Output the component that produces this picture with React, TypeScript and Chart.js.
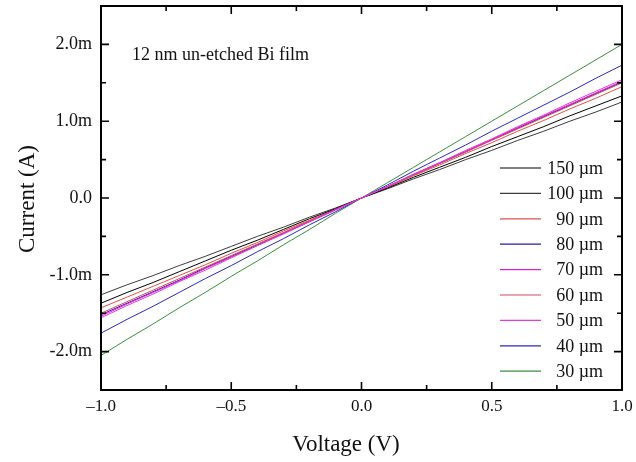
import React, { useEffect, useRef } from "react";
import { Chart, registerables } from "chart.js";

Chart.register(...registerables);

const voltage = [-1.0, -0.9, -0.8, -0.7, -0.6, -0.5, -0.4, -0.3, -0.2, -0.1, 0.0, 0.1, 0.2, 0.3, 0.4, 0.5, 0.6, 0.7, 0.8, 0.9, 1.0];

// currents in mA
const i150 = [-1.37, -1.23, -1.10, -0.96, -0.82, -0.68, -0.55, -0.41, -0.27, -0.14, 0.00, 0.13, 0.27, 0.40, 0.53, 0.67, 0.80, 0.93, 1.07, 1.20, 1.33];
const i100 = [-1.26, -1.13, -1.01, -0.88, -0.76, -0.63, -0.50, -0.38, -0.25, -0.13, 0.00, 0.12, 0.25, 0.37, 0.50, 0.62, 0.75, 0.87, 1.00, 1.12, 1.25];
const i90 = [-1.43, -1.29, -1.15, -1.01, -0.87, -0.72, -0.58, -0.43, -0.29, -0.15, 0.00, 0.14, 0.29, 0.43, 0.58, 0.72, 0.87, 1.01, 1.16, 1.30, 1.45];
const i80 = [-1.52, -1.37, -1.22, -1.07, -0.91, -0.76, -0.61, -0.46, -0.30, -0.15, 0.00, 0.15, 0.30, 0.45, 0.60, 0.76, 0.91, 1.06, 1.21, 1.36, 1.51];
const i70 = [-1.54, -1.38, -1.23, -1.08, -0.92, -0.77, -0.62, -0.46, -0.31, -0.15, 0.00, 0.15, 0.31, 0.46, 0.61, 0.76, 0.92, 1.07, 1.22, 1.37, 1.52];
const i60 = [-1.50, -1.35, -1.20, -1.05, -0.90, -0.75, -0.60, -0.45, -0.30, -0.15, 0.00, 0.15, 0.30, 0.45, 0.60, 0.75, 0.90, 1.05, 1.20, 1.35, 1.50];
const i50 = [-1.56, -1.40, -1.25, -1.09, -0.94, -0.78, -0.62, -0.47, -0.31, -0.16, 0.00, 0.15, 0.31, 0.46, 0.62, 0.77, 0.93, 1.08, 1.24, 1.39, 1.54];
const i40 = [-1.76, -1.58, -1.41, -1.23, -1.05, -0.88, -0.70, -0.53, -0.35, -0.18, 0.00, 0.17, 0.35, 0.52, 0.69, 0.87, 1.04, 1.21, 1.38, 1.56, 1.73];
const i30 = [-2.05, -1.84, -1.64, -1.43, -1.23, -1.02, -0.82, -0.61, -0.41, -0.20, 0.00, 0.20, 0.40, 0.60, 0.80, 1.00, 1.20, 1.40, 1.60, 1.80, 2.00];

const seriesLabels = ["150 \u00b5m", "100 \u00b5m", "90 \u00b5m", "80 \u00b5m", "70 \u00b5m", "60 \u00b5m", "50 \u00b5m", "40 \u00b5m", "30 \u00b5m"];
const seriesData = [i150, i100, i90, i80, i70, i60, i50, i40, i30];
const seriesColors = ["#000000", "#3c3c3c", "#e0524a", "#2020b0", "#e020d8", "#d84a50", "#e838e0", "#2828c8", "#3a8f3a"];
const drawOrder = [3, 4, 5, 6, 1, 2, 0, 7, 8];

const xMajor = [-1.0, -0.5, 0.0, 0.5, 1.0];
const xMinor = [-0.75, -0.25, 0.25, 0.75];
const yMajor = [-2, -1, 0, 1, 2];
const yMinor = [-2.5, -1.5, -0.5, 0.5, 1.5, 2.5];

const annotationText = "12 nm un-etched Bi film";
const xTitle = "Voltage (V)";
const yTitle = "Current (A)";

const SERIF = "'Liberation Serif', 'Times New Roman', serif";

const decorPlugin = {
  id: "decor",
  afterDraw(chart: any) {
    const ctx = chart.ctx;
    const { left, right, top, bottom } = chart.chartArea;
    const xs = chart.scales.x;
    const ys = chart.scales.y;
    ctx.save();
    ctx.strokeStyle = "#000";
    ctx.fillStyle = "#000";
    // frame
    ctx.lineWidth = 2;
    ctx.strokeRect(left, top, right - left, bottom - top);
    // ticks
    ctx.lineWidth = 1.6;
    ctx.beginPath();
    const tick = (vals: number[], len: number) => {
      vals.forEach((v) => {
        const px = xs.getPixelForValue(v);
        ctx.moveTo(px, bottom);
        ctx.lineTo(px, bottom - len);
        ctx.moveTo(px, top);
        ctx.lineTo(px, top + len);
      });
    };
    const tickY = (vals: number[], len: number) => {
      vals.forEach((v) => {
        const py = ys.getPixelForValue(v);
        ctx.moveTo(left, py);
        ctx.lineTo(left + len, py);
        ctx.moveTo(right, py);
        ctx.lineTo(right - len, py);
      });
    };
    tick(xMajor, 8);
    tick(xMinor, 5);
    tickY(yMajor, 8);
    tickY(yMinor, 5);
    ctx.stroke();

    // annotation
    ctx.font = `18px ${SERIF}`;
    ctx.textAlign = "left";
    ctx.textBaseline = "alphabetic";
    ctx.fillStyle = "#111";
    ctx.fillText(annotationText, 132, 60);

    // legend
    const rowY0 = 168;
    const rowH = 25.4;
    seriesLabels.forEach((lab, i) => {
      const y = rowY0 + i * rowH;
      ctx.strokeStyle = seriesColors[i];
      ctx.lineWidth = 1.2;
      ctx.beginPath();
      ctx.moveTo(500, y);
      ctx.lineTo(541, y);
      ctx.stroke();
      ctx.fillStyle = "#111";
      ctx.font = `18px ${SERIF}`;
      ctx.textAlign = "right";
      ctx.textBaseline = "middle";
      ctx.fillText(lab, 603, y + 1);
    });

    // axis titles
    ctx.fillStyle = "#111";
    ctx.font = `23px ${SERIF}`;
    ctx.textAlign = "center";
    ctx.textBaseline = "alphabetic";
    ctx.fillText(xTitle, 346, 451);
    ctx.save();
    ctx.translate(34, 199);
    ctx.rotate(-Math.PI / 2);
    ctx.fillText(yTitle, 0, 0);
    ctx.restore();
    ctx.restore();
  },
};

export default function App() {
  const ref = useRef<HTMLCanvasElement>(null);
  useEffect(() => {
    if (!ref.current) return;
    const chart = new Chart(ref.current, {
      type: "line",
      data: {
        datasets: seriesLabels.map((lab, i) => ({
          label: lab,
          data: voltage.map((v, k) => ({ x: v, y: seriesData[i][k] })),
          borderColor: seriesColors[i],
          backgroundColor: seriesColors[i],
          borderWidth: 1,
          pointRadius: 0,
          tension: 0,
          order: drawOrder[i],
        })),
      },
      options: {
        responsive: false,
        animation: false,
        layout: { padding: { top: 6, right: 14, left: 0, bottom: 0 } },
        plugins: { legend: { display: false }, tooltip: { enabled: false } },
        scales: {
          x: {
            type: "linear",
            min: -1,
            max: 1,
            grid: { display: false, drawTicks: false },
            border: { display: false },
            afterFit: (s: any) => {
              s.height = 72;
              s.paddingLeft = 0;
              s.paddingRight = 0;
            },
            afterBuildTicks: (s: any) => {
              s.ticks = xMajor.map((v) => ({ value: v }));
            },
            ticks: {
              padding: 6,
              color: "#111",
              font: { family: SERIF, size: 17 },
              callback: (v: any) => (v < 0 ? "\u2013" + Math.abs(v).toFixed(1) : Number(v).toFixed(1)),
            },
          },
          y: {
            type: "linear",
            min: -2.5,
            max: 2.5,
            grid: { display: false, drawTicks: false },
            border: { display: false },
            afterFit: (s: any) => {
              s.width = 101;
              s.paddingTop = 0;
              s.paddingBottom = 0;
            },
            afterBuildTicks: (s: any) => {
              s.ticks = yMajor.map((v) => ({ value: v }));
            },
            ticks: {
              padding: 9,
              color: "#111",
              font: { family: SERIF, size: 18 },
              callback: (v: any) => (v === 0 ? "0.0" : Number(v).toFixed(1) + "m"),
            },
          },
        },
      },
      plugins: [decorPlugin],
    });
    return () => chart.destroy();
  }, []);
  return (
    <div style={{ position: "absolute", left: 0, top: 0, width: 636, height: 462, background: "#fff" }}>
      <canvas ref={ref} width={636} height={462} />
    </div>
  );
}
